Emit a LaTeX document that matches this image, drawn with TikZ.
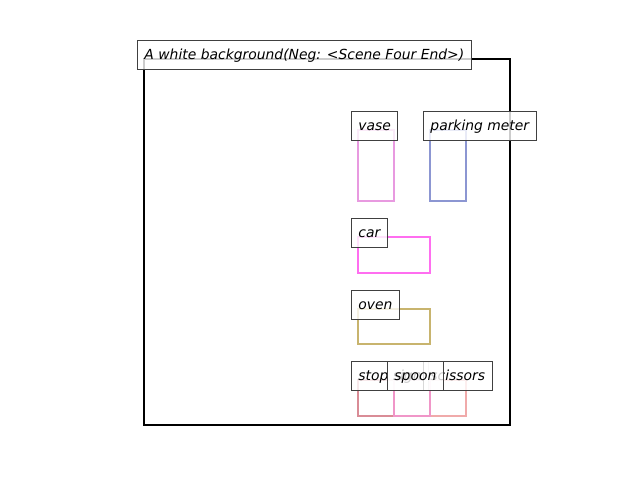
\documentclass[tikz,border=0pt]{standalone}
\usepackage{fontspec}
\setmainfont{DejaVu Sans}
\usepackage{tikz}

\definecolor{vasecol}{RGB}{232,154,224}
\definecolor{metercol}{RGB}{140,150,210}
\definecolor{carcol}{RGB}{255,110,240}
\definecolor{ovencol}{RGB}{200,180,110}
\definecolor{stopcol}{RGB}{217,140,150}
\definecolor{spooncol}{RGB}{240,150,200}
\definecolor{scissorscol}{RGB}{240,170,170}

\begin{document}
\begin{tikzpicture}[x=0.72pt,y=-0.72pt]
        \tikzstyle{objbox} = [line width=1.44pt]
        \tikzstyle{tag} = [draw=black!75,fill=white,fill opacity=0.8,text opacity=1,line width=0.72pt,
            inner sep=5pt,text height=8pt,text depth=2.2pt,anchor=base west,font=\fontsize{10pt}{12pt}\selectfont\itshape]

        \useasboundingbox (0,0) rectangle (640,480);

        \draw [objbox,vasecol] (358,130) rectangle (394,201);
        \draw [objbox,metercol] (430,130) rectangle (466,201);
        \draw [objbox,carcol] (358,237) rectangle (430,273);
        \draw [objbox,ovencol] (358,309) rectangle (430,344);
        \draw [objbox,stopcol] (358,380) rectangle (394,416);
        \draw [objbox,scissorscol] (430,380) rectangle (466,416);
        \draw [objbox,spooncol] (394,380) rectangle (430,416);

        \draw [line width=1.6pt] (144,59) rectangle (510,425);

        \node [tag] (scene) at (137,59) {A white background(Neg: <Scene Four End>)};
        \node [tag] (vase) at (351,130) {vase};
        \node [tag] (meter) at (423,130) {parking meter};
        \node [tag] (car) at (351,237) {car};
        \node [tag] (oven) at (351,309) {oven};
        \node [tag] (stop) at (351,380) {stop sign};
        \node [tag] (scissors) at (423,380) {scissors};
        \node [tag] (spoon) at (387,380) {spoon};
    \end{tikzpicture}
\end{document}
